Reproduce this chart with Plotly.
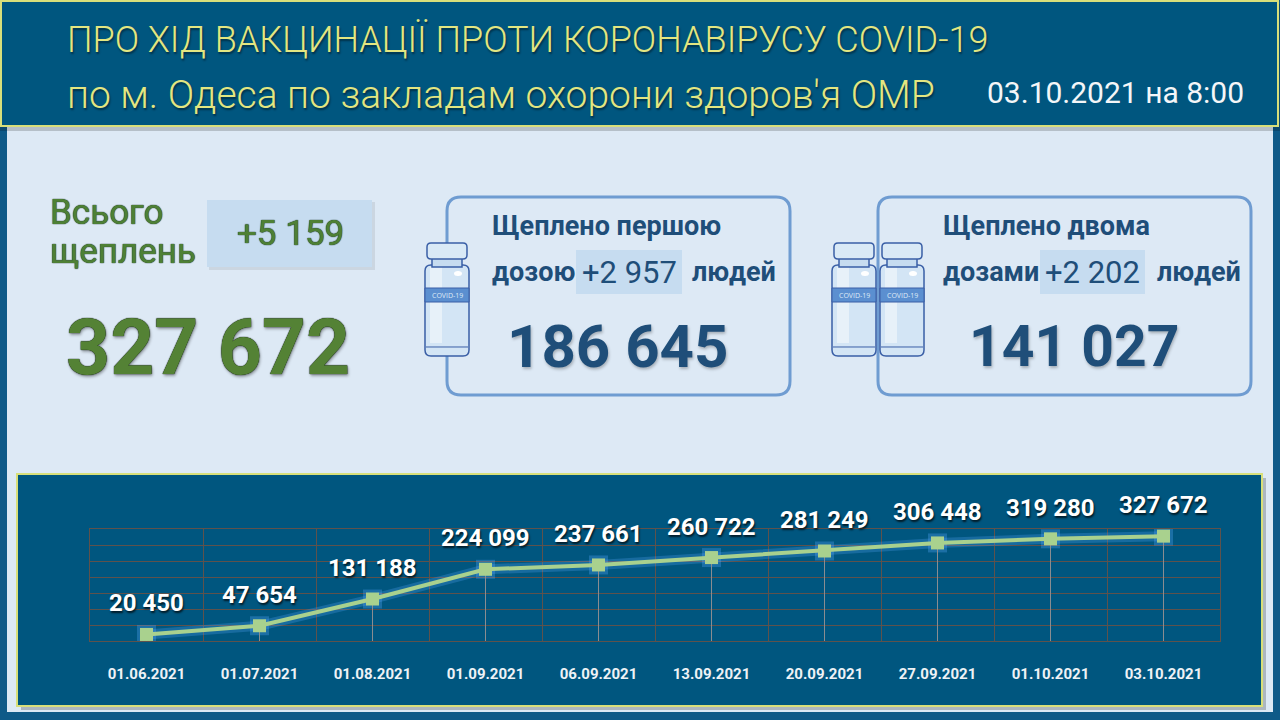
import plotly.graph_objects as go

# ---------------- data ----------------
dates = ["01.06.2021", "01.07.2021", "01.08.2021", "01.09.2021", "06.09.2021",
         "13.09.2021", "20.09.2021", "27.09.2021", "01.10.2021", "03.10.2021"]
totals = [20450, 47654, 131188, 224099, 237661, 260722, 281249, 306448, 319280, 327672]

title_line1 = "ПРО ХІД ВАКЦИНАЦІЇ ПРОТИ КОРОНАВІРУСУ COVID-19"
title_line2 = "по м. Одеса по закладам охорони здоров'я ОМР"
report_time = "03.10.2021 на 8:00"

total_all = 327672
total_all_delta = 5159
first_dose = 186645
first_dose_delta = 2957
second_dose = 141027
second_dose_delta = 2202


def fmt(v):
    return f"{v:,}".replace(",", " ")


W, H = 1280, 720
FONT = "Roboto, Noto Sans, sans-serif"


def px(x):
    return x / W


def py(y):
    return 1 - y / H


def P(x, y):
    return f"{px(x):.5f},{py(y):.5f}"


def rrect(x0, y0, x1, y1, r):
    return (f"M{P(x0 + r, y0)} L{P(x1 - r, y0)} Q{P(x1, y0)} {P(x1, y0 + r)} "
            f"L{P(x1, y1 - r)} Q{P(x1, y1)} {P(x1 - r, y1)} L{P(x0 + r, y1)} "
            f"Q{P(x0, y1)} {P(x0, y1 - r)} L{P(x0, y0 + r)} Q{P(x0, y0)} {P(x0 + r, y0)} Z")


shapes = []
annotations = []


def rect(x0, y0, x1, y1, fill, line=None, lw=0, layer="below"):
    shapes.append(dict(type="rect", xref="paper", yref="paper", layer=layer,
                       x0=px(x0), x1=px(x1), y0=py(y1), y1=py(y0),
                       fillcolor=fill, line=dict(color=line or fill, width=lw)))


def path(d, fill, line, lw, layer="below"):
    shapes.append(dict(type="path", xref="paper", yref="paper", layer=layer, path=d,
                       fillcolor=fill, line=dict(color=line, width=lw)))


def text(x, y, s, size, color, weight="normal", xanchor="center", family=FONT, shadow=None):
    f = dict(family=family, size=size, color=color, weight=weight)
    if shadow:
        f["shadow"] = shadow
    annotations.append(dict(xref="paper", yref="paper", x=px(x), y=py(y), text=s,
                            showarrow=False, xanchor=xanchor, yanchor="middle", font=f))


# ---------- background ----------
rect(7, 120, 1273, 712, "#dde9f5")
# title bar
rect(0, 4, 1280, 131, "rgba(0,0,0,0.18)")
rect(1, 1, 1278, 126, "#00567f", "#d8df7a", 2)
text(65, 40, title_line1, 36, "#e3e681", weight=300, xanchor="left",
     shadow="1px 2px 2px rgba(0,0,0,0.45)")
text(65, 95, title_line2, 39, "#e3e681", weight=300, xanchor="left",
     shadow="1px 2px 2px rgba(0,0,0,0.45)")
text(1115, 93, report_time, 30, "#f4f6f8")

# ---------- left summary ----------
green = "#4e8035"
outline = "0 0 1px #1e3b2a, 0 0 1px #1e3b2a"
text(48, 212, "Всього", 35, green, xanchor="left", shadow=outline)
text(48, 251, "щеплень", 35, green, xanchor="left", shadow=outline)
rect(209, 202, 375, 270, "rgba(0,0,0,0.08)")
rect(207, 200, 372, 267, "#c6dcf0")
text(290, 234, "+" + fmt(total_all_delta), 35, green, shadow=outline)
text(208, 348, fmt(total_all), 77, "#548235", weight="bold",
     shadow="0 0 1px #142414, 0 0 1px #142414, 1px 2px 3px rgba(0,0,0,0.35)")

# ---------- dose boxes ----------
navy = "#1f4e79"
path(rrect(447, 197, 790, 395, 14), "rgba(0,0,0,0)", "#6f9cd1", 3)
path(rrect(878, 197, 1251, 395, 14), "rgba(0,0,0,0)", "#6f9cd1", 3)

text(490, 226, "Щеплено першою", 27, navy, weight="bold", xanchor="left")
text(490, 272, "дозою", 27, navy, weight="bold", xanchor="left")
rect(576, 250, 682, 294, "#c6dcf0")
text(629, 272, "+" + fmt(first_dose_delta), 31, navy)
text(690, 272, "людей", 27, navy, weight="bold", xanchor="left")
text(617, 346, fmt(first_dose), 60, navy, weight="bold", shadow="1px 2px 3px rgba(0,0,0,0.25)")

text(941, 226, "Щеплено двома", 27, navy, weight="bold", xanchor="left")
text(941, 272, "дозами", 27, navy, weight="bold", xanchor="left")
rect(1040, 250, 1145, 294, "#c6dcf0")
text(1092, 272, "+" + fmt(second_dose_delta), 31, navy)
text(1155, 272, "людей", 27, navy, weight="bold", xanchor="left")
text(1074, 346, fmt(second_dose), 57, navy, weight="bold", shadow="1px 2px 3px rgba(0,0,0,0.25)")


def vial(x0, y0):
    ol = "#3a5fa6"
    path(rrect(x0 + 1, y0 + 22, x0 + 45, y0 + 113, 6), "#d3e5f5", ol, 1.5)
    rect(x0 + 6, y0 + 24, x0 + 18, y0 + 100, "rgba(255,255,255,0.45)")
    rect(x0 + 8, y0 + 15, x0 + 38, y0 + 24, "#c6dcf0", ol, 1.5)
    path(rrect(x0 + 3, y0, x0 + 43, y0 + 16, 4), "#d9e9f6", ol, 1.5)
    rect(x0 + 1, y0 + 45, x0 + 45, y0 + 59, "#5b8fd0", ol, 1)
    text(x0 + 23, y0 + 52, "COVID-19", 7, "#dfeaf7", family="Open Sans, sans-serif")
    path(f"M{P(x0 + 2, y0 + 104)} L{P(x0 + 44, y0 + 104)}", "rgba(0,0,0,0)", ol, 1)
    shapes.append(dict(type="circle", xref="paper", yref="paper", layer="below",
                       x0=px(x0 + 30), x1=px(x0 + 38), y0=py(y0 + 33), y1=py(y0 + 28),
                       fillcolor="white", line=dict(width=0)))


vial(424, 243)
vial(831, 243)
vial(879, 243)

# ---------- chart panel ----------
rect(21, 478, 1266, 710, "rgba(0,0,0,0.22)")
rect(17, 474, 1262, 706, "#00567f", "#d8df7a", 2)

fig = go.Figure()
fig.add_trace(go.Scatter(x=dates, y=totals, mode="lines+markers",
                         line=dict(color="rgba(90,170,255,0.25)", width=10),
                         marker=dict(symbol="square", size=19, color="rgba(90,170,255,0.3)"),
                         hoverinfo="skip", showlegend=False))
fig.add_trace(go.Scatter(x=dates, y=totals, mode="lines+markers",
                         line=dict(color="#a9d18e", width=4),
                         marker=dict(symbol="square", size=13, color="#a9d18e",
                                     line=dict(width=0)),
                         error_y=dict(type="data", symmetric=False, array=[0] * len(totals),
                                      arrayminus=totals, color="#8a8c90", thickness=1, width=0),
                         showlegend=False))

for d, v in zip(dates, totals):
    annotations.append(dict(x=d, y=v, xref="x", yref="y", text=fmt(v), showarrow=False,
                            yshift=31, font=dict(family=FONT, size=24, color="white",
                                                 weight="bold",
                                                 shadow="1px 2px 2px rgba(0,0,0,0.7)")))

grid = "#5e524c"
fig.update_layout(
    width=W, height=H, margin=dict(l=0, r=0, t=0, b=0),
    paper_bgcolor="#0f5a88", plot_bgcolor="rgba(0,0,0,0)",
    shapes=shapes, annotations=annotations,
    xaxis=dict(type="category", domain=[px(90), px(1220)], range=[-0.5, 9.5],
               tickson="boundaries", showgrid=True, gridcolor=grid, gridwidth=1,
               showline=True, linecolor=grid, mirror=True, ticks="",
               ticklabelstandoff=19,
               tickfont=dict(family=FONT, size=15, color="#eef2f6", weight="bold"),
               zeroline=False, fixedrange=True),
    yaxis=dict(domain=[py(641), py(529)], range=[0, 350000], dtick=50000,
               showgrid=True, gridcolor=grid, gridwidth=1, showticklabels=False,
               showline=True, linecolor=grid, mirror=True, zeroline=False, fixedrange=True),
)

fig.write_html("out.html", config={"displayModeBar": False},
               post_script="document.body.style.margin='0';document.body.style.overflow='hidden';")
